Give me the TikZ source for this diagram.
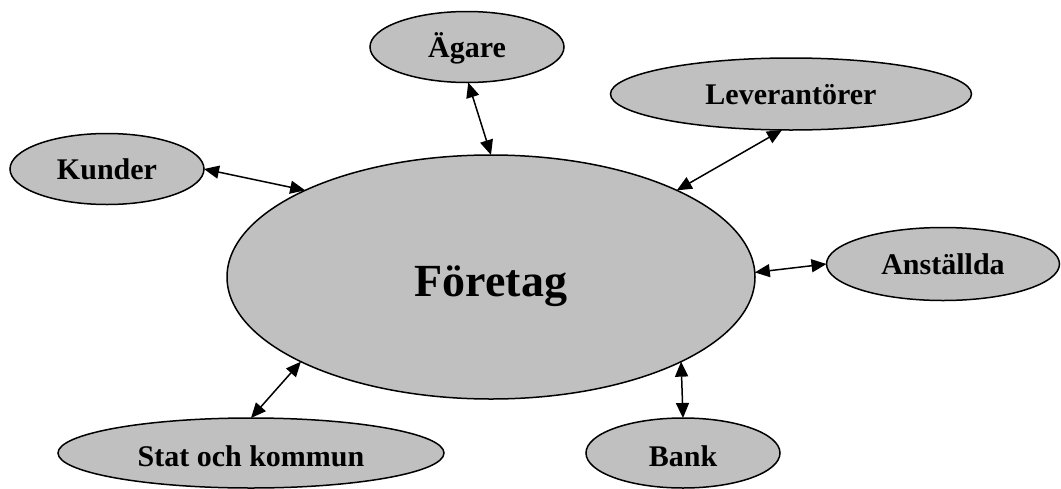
\documentclass[tikz,border=0pt]{standalone}
\usepackage{fontspec}
\setmainfont{Liberation Serif}
\usetikzlibrary{shapes.geometric,arrows.meta}
\definecolor{silverfill}{HTML}{C0C0C0}
\begin{document}
\begin{tikzpicture}[x=1pt,y=-1pt,
  oval/.style={ellipse, draw=black, fill=silverfill, line width=1.5pt,
    inner sep=0pt, outer sep=0pt,
    font=\fontsize{30}{36}\selectfont\bfseries, text height=20pt, text depth=0pt},
  lowoval/.style={oval, text height=26pt},
  link/.style={line width=1.5pt,
    {Triangle[length=15pt,width=13pt]}-{Triangle[length=15pt,width=13pt]}}]
\useasboundingbox (0,0) rectangle (1061,488);

\node[oval, minimum width=528pt, minimum height=244pt,
  font=\fontsize{46}{52}\selectfont\bfseries, text height=38pt] (f) at (491,277) {Företag};

\node[oval, minimum width=194pt, minimum height=71pt] (agare) at (467,47) {Ägare};
\node[oval, minimum width=361pt, minimum height=72pt] (lev) at (791,94) {Leverantörer};
\node[oval, minimum width=194pt, minimum height=71pt] (kund) at (107,169) {Kunder};
\node[oval, minimum width=233pt, minimum height=73pt] (anst) at (943,264) {Anställda};
\node[lowoval, minimum width=386pt, minimum height=70pt] (stat) at (251,453) {Stat och kommun};
\node[lowoval, minimum width=194pt, minimum height=70pt] (bank) at (683,453) {Bank};

\draw[link] (agare.272) -- (f.90);
\draw[link] (lev.256) -- (f.25);
\draw[link] (kund.0) -- (f.155);
\draw[link] (anst.180) -- (f.1);
\draw[link] (stat.90) -- (f.204);
\draw[link] (bank.90) -- (f.336);
\end{tikzpicture}
\end{document}
